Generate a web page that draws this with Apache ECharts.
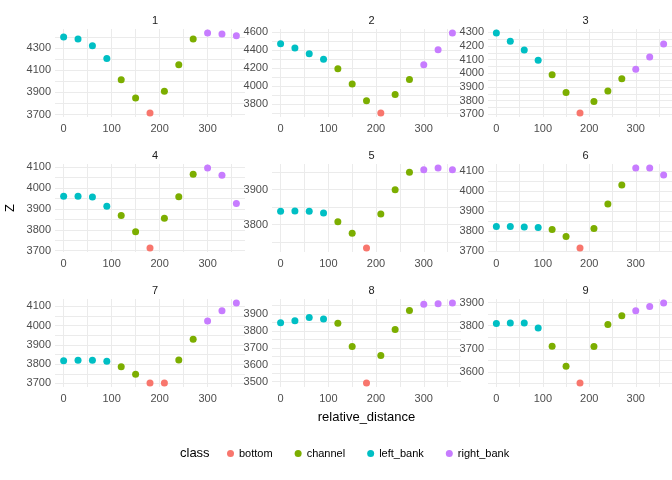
<!DOCTYPE html>
<html>
<head>
<meta charset="utf-8">
<script src="https://cdn.jsdelivr.net/npm/echarts@6/dist/echarts.min.js"></script>
<style>html,body{margin:0;padding:0;background:#fff}#c{width:672px;height:480px}</style>
</head>
<body>
<div id="c"></div>
<script>
// data
var distance = [0, 30, 60, 90, 120, 150, 180, 210, 240, 270, 300, 330, 360];
var classNames = ['bottom', 'channel', 'left_bank', 'right_bank'];
var colors = ['#F8766D', '#7CAE00', '#00BFC4', '#C77CFF'];
var L = 'left_bank', C = 'channel', B = 'bottom', R = 'right_bank';
var panelClass = [
  [L, L, L, L, C, C, B, C, C, C, R, R, R],
  [L, L, L, L, C, C, C, B, C, C, R, R, R],
  [L, L, L, L, C, C, B, C, C, C, R, R, R],
  [L, L, L, L, C, C, B, C, C, C, R, R, R],
  [L, L, L, L, C, C, B, C, C, C, R, R, R],
  [L, L, L, L, C, C, B, C, C, C, R, R, R],
  [L, L, L, L, C, C, B, B, C, C, R, R, R],
  [L, L, L, L, C, C, B, C, C, C, R, R, R],
  [L, L, L, L, C, C, B, C, C, C, R, R, R]
];
var z1 = [4400, 4380, 4320, 4205, 4015, 3850, 3715, 3910, 4150, 4380, 4435, 4425, 4410];
var z2 = [4470, 4425, 4360, 4300, 4195, 4025, 3840, 3705, 3910, 4075, 4240, 4405, 4590];
var z3 = [4295, 4235, 4170, 4095, 3990, 3860, 3710, 3795, 3870, 3960, 4030, 4120, 4215];
var z4 = [3960, 3960, 3957, 3912, 3868, 3790, 3713, 3855, 3958, 4065, 4095, 4060, 3925];
var z5 = [3838, 3839, 3838, 3833, 3808, 3775, 3733, 3830, 3900, 3950, 3957, 3962, 3957];
var z6 = [3822, 3822, 3820, 3818, 3808, 3773, 3715, 3812, 3935, 4030, 4115, 4115, 4080];
var z7 = [3818, 3820, 3820, 3815, 3787, 3748, 3702, 3702, 3822, 3930, 4025, 4078, 4118];
var z8 = [3848, 3860, 3880, 3870, 3845, 3708, 3492, 3655, 3808, 3920, 3958, 3960, 3965];
var z9 = [3810, 3812, 3812, 3790, 3712, 3625, 3553, 3710, 3805, 3843, 3865, 3883, 3898];
var zs = [z1, z2, z3, z4, z5, z6, z7, z8, z9];
var yMajor = [
  [3700, 3900, 4100, 4300],
  [3800, 4000, 4200, 4400, 4600],
  [3700, 3800, 3900, 4000, 4100, 4200, 4300],
  [3700, 3800, 3900, 4000, 4100],
  [3800, 3900],
  [3700, 3800, 3900, 4000, 4100],
  [3700, 3800, 3900, 4000, 4100],
  [3500, 3600, 3700, 3800, 3900],
  [3600, 3700, 3800, 3900]
];
var yStep = [200, 200, 100, 100, 100, 100, 100, 100, 100];
var xMajor = [0, 100, 200, 300];

var gl = [55, 272, 488], gw = [190, 189, 185];
var gt = [29, 164, 299], gh = 88;
var grids = [], xAxes = [], yAxes = [], series = [], titles = [];
var plain = function (v) { return String(Math.round(v)); };
zs.forEach(function (z, i) {
  var r = Math.floor(i / 3), c = i % 3;
  grids.push({left: gl[c], top: gt[r], width: gw[c], height: gh});
  titles.push({text: String(i + 1), left: gl[c] + gw[c] / 2, top: gt[r] - 19, textAlign: 'center',
    textStyle: {fontSize: 11, fontWeight: 'normal', color: '#1a1a1a', fontFamily: 'Liberation Sans'}});
  var lo = Math.min.apply(null, z), hi = Math.max.apply(null, z), pad = (hi - lo) * 0.05;
  var ticks = [];
  yMajor[i].forEach(function (v) { ticks.push(v); });
  yMajor[i].forEach(function (v) { ticks.push(v - yStep[i] / 2); ticks.push(v + yStep[i] / 2); });
  ticks = ticks.filter(function (v, k, a) { return a.indexOf(v) === k && v >= lo - pad && v <= hi + pad; });
  ticks.sort(function (a, b) { return a - b; });
  yAxes.push({type: 'value', gridIndex: i, min: lo - pad, max: hi + pad,
    axisLine: {show: false}, axisTick: {show: false, customValues: ticks},
    axisLabel: {customValues: yMajor[i], formatter: plain, color: '#4d4d4d', fontSize: 11, margin: 4, fontFamily: 'Liberation Sans'},
    splitLine: {lineStyle: {color: '#ebebeb', width: 1}},
    name: i === 3 ? 'Z' : '', nameLocation: 'middle', nameGap: 38, nameRotate: 90,
    nameTextStyle: {fontSize: 13, color: '#000', fontFamily: 'Liberation Sans'}});
  xAxes.push({type: 'value', gridIndex: i, min: -18, max: 378,
    axisLine: {show: false}, axisTick: {show: false, customValues: [0, 50, 100, 150, 200, 250, 300, 350]},
    axisLabel: {customValues: xMajor, formatter: plain, color: '#4d4d4d', fontSize: 11, margin: 6, fontFamily: 'Liberation Sans'},
    splitLine: {lineStyle: {color: '#ebebeb', width: 1}},
    name: i === 7 ? 'relative_distance' : '', nameLocation: 'middle', nameGap: 24,
    nameTextStyle: {fontSize: 13, color: '#000', fontFamily: 'Liberation Sans'}});
  classNames.forEach(function (cn, k) {
    var pts = [];
    distance.forEach(function (d, j) { if (panelClass[i][j] === cn) pts.push([d, z[j]]); });
    series.push({type: 'scatter', name: cn, xAxisIndex: i, yAxisIndex: i, data: pts, clip: false,
      symbolSize: 7, itemStyle: {color: colors[k], opacity: 1}, silent: true});
  });
});

var chart = echarts.init(document.getElementById('c'));
chart.setOption({
  backgroundColor: '#fff',
  animation: false,
  title: titles,
  grid: grids,
  xAxis: xAxes,
  yAxis: yAxes,
  series: series,
  legend: {data: classNames, bottom: 16, left: 222, itemGap: 22, icon: 'circle', itemWidth: 7, itemHeight: 7,
    textStyle: {fontSize: 11, color: '#000', fontFamily: 'Liberation Sans'}},
  graphic: [{type: 'text', left: 180, top: 447, style: {text: 'class', fontSize: 13, fill: '#000', fontFamily: 'Liberation Sans'}}]
});
</script>
</body>
</html>
